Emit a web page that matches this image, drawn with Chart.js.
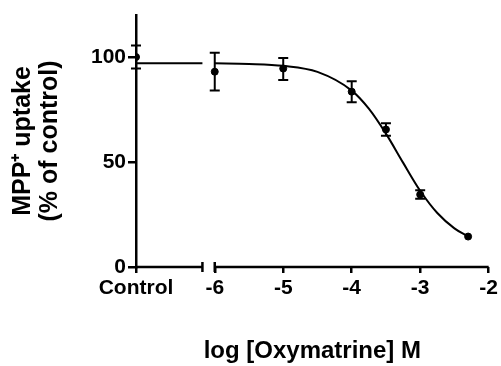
<!DOCTYPE html>
<html><head><meta charset="utf-8">
<script src="https://cdn.jsdelivr.net/npm/chart.js@4/dist/chart.umd.min.js"></script>
<style>html,body{margin:0;padding:0;background:#fff;}</style>
</head><body>
<canvas id="c" width="501" height="366"></canvas>
<script>
// ---- data ----
const controlLabel = 'Control';
const controlPos = -7.15;      // axis position given to the Control group (broken axis)
const breakEnd = -6.18;        // end of the Control axis segment
const xTickValues = [-6, -5, -4, -3, -2];
const xTickLabels = ['-6', '-5', '-4', '-3', '-2'];
const yTickValues = [0, 50, 100];

const controlMean = [100];
const controlLow = [94.5];
const controlHigh = [105.5];

const logDose = [-6, -5, -4, -3.5, -3, -2.3];
const uptakeMean = [93, 94.5, 83.5, 65.5, 34.5, 14.5];
const uptakeLow = [84, 89, 78.5, 62.5, 32.5, null];
const uptakeHigh = [102, 99.5, 88.5, 68.5, 36.5, null];

const curveX = [-6, -5.5, -5, -4.5, -4, -3.75, -3.5, -3.25, -3, -2.75, -2.5, -2.3];
const curveY = [97, 96.7, 95.8, 92.9, 84, 75.4, 63.5, 49.7, 36.3, 25.7, 18.4, 14.5];
const plateauY = 97;

const FONT = 'Arial, "Liberation Sans", sans-serif';

const errorBars = {
  id: 'errorBars',
  afterDatasetsDraw(chart) {
    const {ctx, scales: {x, y}} = chart;
    ctx.save();
    ctx.strokeStyle = '#000';
    ctx.lineWidth = 2;
    const draw = (xv, lo, hi) => {
      if (lo == null || hi == null) return;
      const px = x.getPixelForValue(xv);
      const pl = y.getPixelForValue(lo), ph = y.getPixelForValue(hi);
      ctx.beginPath();
      ctx.moveTo(px, pl); ctx.lineTo(px, ph);
      ctx.moveTo(px - 5, pl); ctx.lineTo(px + 5, pl);
      ctx.moveTo(px - 5, ph); ctx.lineTo(px + 5, ph);
      ctx.stroke();
    };
    controlMean.forEach((m, i) => draw(controlPos, controlLow[i], controlHigh[i]));
    logDose.forEach((d, i) => draw(d, uptakeLow[i], uptakeHigh[i]));
    ctx.restore();
  }
};

const brokenAxis = {
  id: 'brokenAxis',
  afterDraw(chart) {
    const {ctx, scales: {x, y}} = chart;
    const py = y.getPixelForValue(0);
    ctx.save();
    ctx.strokeStyle = '#000';
    ctx.lineWidth = 2.5;
    const seg = (a, b) => {
      ctx.beginPath();
      ctx.moveTo(x.getPixelForValue(a), py);
      ctx.lineTo(x.getPixelForValue(b), py);
      ctx.stroke();
    };
    seg(controlPos, breakEnd);
    seg(xTickValues[0], xTickValues[xTickValues.length - 1]);
    [breakEnd, xTickValues[0]].forEach(v => {
      const px = x.getPixelForValue(v);
      ctx.beginPath();
      ctx.moveTo(px, py - 5); ctx.lineTo(px, py + 5);
      ctx.stroke();
    });
    ctx.restore();
  }
};

new Chart(document.getElementById('c'), {
  data: {
    datasets: [
      {
        type: 'line',
        data: curveX.map((v, i) => ({x: v, y: curveY[i]})),
        borderColor: '#000', borderWidth: 2, pointRadius: 0,
        cubicInterpolationMode: 'monotone', fill: false
      },
      {
        type: 'line',
        data: [{x: controlPos, y: plateauY}, {x: breakEnd, y: plateauY}],
        borderColor: '#000', borderWidth: 2, pointRadius: 0, fill: false
      },
      {
        type: 'scatter',
        data: logDose.map((v, i) => ({x: v, y: uptakeMean[i]})),
        backgroundColor: '#000', borderColor: '#000', pointRadius: 3.5
      },
      {
        type: 'scatter',
        data: controlMean.map(m => ({x: controlPos, y: m})),
        backgroundColor: '#000', borderColor: '#000', pointRadius: 3.5
      }
    ]
  },
  options: {
    responsive: false,
    animation: false,
    devicePixelRatio: 1,
    layout: {padding: {top: 15, right: 12, bottom: 0, left: 0}},
    plugins: {legend: {display: false}, tooltip: {enabled: false}},
    scales: {
      x: {
        type: 'linear',
        min: controlPos, max: xTickValues[xTickValues.length - 1],
        afterBuildTicks: s => { s.ticks = [controlPos, ...xTickValues].map(v => ({value: v})); },
        afterFit: s => { s.height = 99; },
        border: {display: false},
        grid: {drawOnChartArea: false, drawTicks: true, tickLength: 6, color: '#000', lineWidth: 2.5},
        ticks: {
          autoSkip: false, maxRotation: 0, padding: 3, color: '#000',
          font: {family: FONT, size: 21, weight: 'bold'},
          callback: (v, i) => i === 0 ? controlLabel : xTickLabels[i - 1]
        },
        title: {
          display: true, text: 'log [Oxymatrine] M', color: '#000',
          font: {family: FONT, size: 24, weight: 'bold'}, padding: {top: 0, bottom: 0}
        }
      },
      y: {
        min: 0, max: 120,
        afterBuildTicks: s => { s.ticks = yTickValues.map(v => ({value: v})); },
        afterFit: s => { s.width = 136; },
        border: {display: true, color: '#000', width: 2.5},
        grid: {drawOnChartArea: false, drawTicks: true, tickLength: 8, color: '#000', lineWidth: 2.5},
        ticks: {padding: 2, color: '#000', font: {family: FONT, size: 21, weight: 'bold'}},
        title: {
          display: true, text: ['MPP⁺ uptake', '(% of control)'], color: '#000',
          font: {family: FONT, size: 25, weight: 'bold', lineHeight: 1.1}, padding: {top: 9, bottom: 0}
        }
      }
    }
  },
  plugins: [errorBars, brokenAxis]
});
</script>
</body></html>
